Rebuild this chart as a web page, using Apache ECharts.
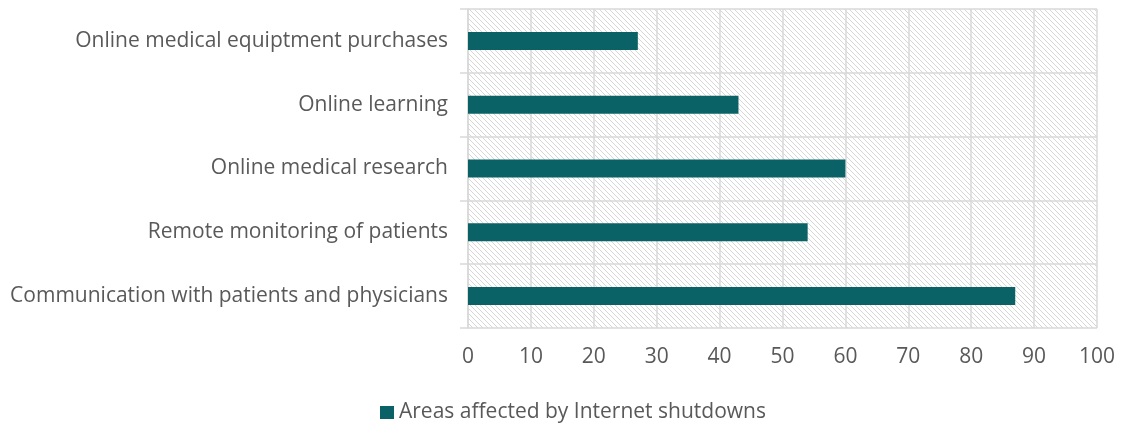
<!DOCTYPE html>
<html>
<head>
<meta charset="utf-8">
<script src="https://cdn.jsdelivr.net/npm/echarts@6/dist/echarts.min.js"></script>
<style>
  html, body { margin: 0; padding: 0; background: #ffffff; }
  #chart { width: 1121px; height: 426px; }
</style>
</head>
<body>
<div id="chart"></div>
<script>
// Categories listed top to bottom
const categories = [
  'Online medical equiptment purchases',
  'Online learning',
  'Online medical research',
  'Remote monitoring of patients',
  'Communication with patients and physicians'
];
const values = [27, 43, 60, 54, 87];
const seriesName = 'Areas affected by Internet shutdowns';
const xTicks = [0, 10, 20, 30, 40, 50, 60, 70, 80, 90, 100];

// Light diagonal hatch for the plot background
function hatchPattern() {
  const s = 5;
  const c = document.createElement('canvas');
  c.width = s; c.height = s;
  const g = c.getContext('2d');
  g.strokeStyle = '#d6d6d6';
  g.lineWidth = 1;
  g.beginPath();
  g.moveTo(-1, -1); g.lineTo(s + 1, s + 1);
  g.moveTo(-1, s - 1); g.lineTo(1, s + 1);
  g.moveTo(s - 1, -1); g.lineTo(s + 1, 1);
  g.stroke();
  return { image: c, repeat: 'repeat' };
}

const textColor = '#595959';
const font = '"Open Sans", sans-serif';
const fontSize = 21;

const chart = echarts.init(document.getElementById('chart'), null, { renderer: 'canvas' });
chart.setOption({
  animation: false,
  grid: {
    show: true,
    left: 468, right: 24, top: 9, bottom: 98,
    backgroundColor: hatchPattern(),
    borderWidth: 0,
    containLabel: false
  },
  legend: {
    bottom: 3,
    left: 380,
    padding: 0,
    itemWidth: 14, itemHeight: 13, itemGap: 4,
    icon: 'rect',
    textStyle: { color: textColor, fontSize: fontSize, fontFamily: font },
    data: [seriesName]
  },
  xAxis: {
    type: 'value',
    min: xTicks[0], max: xTicks[xTicks.length - 1], interval: 10,
    axisLine: { show: false },
    axisTick: { show: false },
    axisLabel: { color: textColor, fontSize: fontSize, fontFamily: font, margin: 19 },
    splitLine: { show: true, lineStyle: { color: '#d9d9d9', width: 1.5 } }
  },
  yAxis: {
    type: 'category',
    inverse: true,
    data: categories,
    axisLine: { show: true, lineStyle: { color: '#d9d9d9', width: 1.5 } },
    axisTick: { show: true, length: 8, lineStyle: { color: '#d9d9d9', width: 1.5 } },
    axisLabel: { color: textColor, fontSize: fontSize, fontFamily: font, margin: 20 },
    splitLine: { show: true, lineStyle: { color: '#d9d9d9', width: 1.5 } }
  },
  series: [{
    name: seriesName,
    type: 'bar',
    data: values,
    barWidth: 18,
    itemStyle: { color: '#0a6266' }
  }]
});
</script>
</body>
</html>
